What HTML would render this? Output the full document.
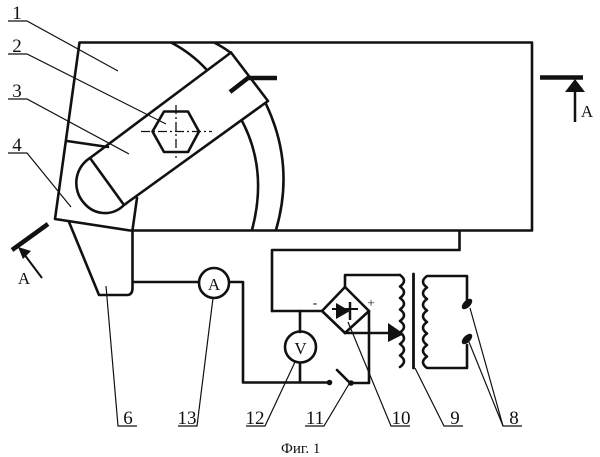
<!DOCTYPE html>
<html>
<head>
<meta charset="utf-8">
<style>
html,body{margin:0;padding:0;background:#fff}
svg{display:block}
text{font-family:"Liberation Serif",serif;fill:#111}
</style>
</head>
<body>
<svg width="600" height="457" viewBox="0 0 600 457" xmlns="http://www.w3.org/2000/svg">
<rect width="600" height="457" fill="#fff"/>
<g fill="none" stroke="#111" stroke-width="2.600" stroke-linejoin="round" stroke-linecap="round">
  <!-- body -->
  <path d="M532 42.500H79.500L55 219 130 230.500H532V42.500Z"/>
  <!-- arcs -->
  <path d="M172 43Q191 53 206 69"/>
  <path d="M215 43Q223 47 231 53"/>
  <path d="M266 104Q295 165 276 230"/>
  <path d="M242 121Q268 170 252 230"/>
  <!-- arm -->
  <path d="M231 52.500L268 101 124 205"/>
  <path d="M231 52.500L90 158C74 168 72 190 84 203C94 215 112 217 124 205"/>
  <path d="M90 158L124 205"/>
  <path d="M67 141L108 147"/>
  <path d="M137 198L132.500 230"/>
  <!-- hexagon -->
  <path d="M152.500 131.500L164 111.500H188L199 131.500 188 152H164Z"/>
  <!-- lower electrode -->
  <path d="M69 222L99 295H127Q132.500 295 132.500 288V230"/>
  <!-- wires -->
  <path d="M133 282H198"/>
  <path d="M230 282H243V382.500H327"/>
  <path d="M272 311V250H459.500V231"/>
  <path d="M272 311H322"/>
  <path d="M300 311V332"/>
  <path d="M300 363V382"/>
  <path d="M353 383H369V311"/>
  <path d="M345 287V275H400"/>
  <path d="M345 333H390"/>
  <path d="M345 287L322 311 345 333 369 311Z"/>
  <path d="M337 370L350 383"/>
  <!-- circles -->
  <circle cx="214" cy="283" r="15"/>
  <circle cx="300.500" cy="347" r="15.500"/>
  <!-- coils -->
  <path d="M400 275q8 5.700 0 11.500q8 5.700 0 11.500q8 5.700 0 11.500q8 5.700 0 11.500q8 5.700 0 11.500q8 5.700 0 11.500q8 5.700 0 11.500q8 5.700 0 11.500"/>
  <path d="M467 302V276H427q-8 5.700 0 11.500q-8 5.700 0 11.500q-8 5.700 0 11.500q-8 5.700 0 11.500q-8 5.700 0 11.500q-8 5.700 0 11.500q-8 5.700 0 11.500q-8 5.700 0 11.500H467V345"/>
  <!-- core -->
  <path d="M413.500 274V368" stroke-width="2.800"/>
</g>
<g fill="none" stroke="#111" stroke-width="4.500">
  <path d="M230 92L248 78H277"/>
  <path d="M12 250L48 224"/>
  <path d="M540 77.500H583"/>
</g>
<g fill="#111" stroke="none">
  <path d="M575 79L585 92H565Z"/>
  <path d="M18 247L31 251 23 259Z"/>
  <path d="M404 334L388 323V342Z"/>
  <path d="M336 303V319L350 311Z"/>
  <circle cx="329.500" cy="382.500" r="2.800"/>
  <circle cx="351" cy="383" r="2.800"/>
  <ellipse cx="467" cy="304" rx="6.500" ry="3.500" transform="rotate(-45 467 304)"/>
  <ellipse cx="467" cy="339" rx="6.500" ry="3.500" transform="rotate(-45 467 339)"/>
</g>
<g fill="none" stroke="#111" stroke-width="2">
  <path d="M575 122V88" stroke-width="2.500"/>
  <path d="M42 278L24 254" stroke-width="2"/>
  <path d="M332 309H358"/>
  <path d="M350 302V320" stroke-width="2.500"/>
</g>
<!-- centre lines -->
<g fill="none" stroke="#111" stroke-width="1.300" stroke-dasharray="9 3 2 3">
  <path d="M141 131.500H212"/>
  <path d="M176 105V158"/>
</g>
<!-- leaders -->
<g fill="none" stroke="#111" stroke-width="1.200">
  <path d="M8 21H27L118 71"/>
  <path d="M8 54H27L166 124"/>
  <path d="M8 99H27L129 154"/>
  <path d="M8 153H27L71 207"/>
  <path d="M106 286L118 426H137"/>
  <path d="M213 298L197 426H178"/>
  <path d="M295 362L265 426H246"/>
  <path d="M349 384L324 426H305"/>
  <path d="M348 322L391 426H410"/>
  <path d="M415 368L444 426H463"/>
  <path d="M470 308L503 426H522"/>
  <path d="M469 342L503 426"/>
</g>
<g font-size="19" text-anchor="middle">
  <text x="17" y="19">1</text>
  <text x="17" y="52">2</text>
  <text x="17" y="97">3</text>
  <text x="17" y="151">4</text>
  <text x="128" y="424">6</text>
  <text x="187" y="424">13</text>
  <text x="255" y="424">12</text>
  <text x="315" y="424">11</text>
  <text x="401" y="424">10</text>
  <text x="455" y="424">9</text>
  <text x="514" y="424">8</text>
  <text x="24" y="284" font-size="17">A</text>
  <text x="587" y="117" font-size="17">A</text>
  <text x="214" y="290" font-size="17">A</text>
  <text x="300.500" y="354" font-size="17">V</text>
  <text x="371" y="307" font-size="13">+</text>
  <text x="315" y="307" font-size="14">-</text>
</g>
<text x="281" y="453" font-size="15">Фиг. 1</text>
</svg>
</body>
</html>
